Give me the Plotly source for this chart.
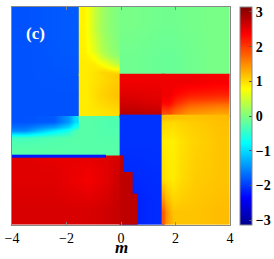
import plotly.graph_objects as go

PI = 3.141592653589793

# ---- phase map data, block by block: x edges (m), y edges, z rows (bottom -> top) ----
blue_tl_x = [-4.0, -2.75, -1.5]
blue_tl_y = [-0.05, 1.9, 4.0]
blue_tl_z = [[-1.85, -1.85],
             [-1.85, -1.8]]

a3_x = [-4.0, -3.0, -1.9, -1.5]
a3_y = [-1.5, -0.9, -0.65, -0.4, -0.05]
a3_z = [[-0.25, -0.25, -0.25],
        [-0.4, -0.3, -0.25],
        [-1.5, -0.9, -0.3],
        [-1.85, -1.8, -1.0]]

a3_edge_x = [-4.0, -0.6]
a3_edge_y = [-1.48, -1.47]
a3_edge_z = [[-2.2]]

b1_x = [-1.5, -1.15, -0.8, -0.4, 0.0]
b1_y = [1.5, 1.75, 2.05, 2.4, 4.0]
b1_z = [[0.9, 0.95, 1.05, 1.0],
        [0.9, 0.9, 0.75, 0.4],
        [0.88, 0.75, 0.35, 0.1],
        [0.85, 0.45, 0.15, 0.0]]

b2_x = [-1.5, -1.0, -0.5, 0.0]
b2_y = [-0.05, 0.4, 1.1, 1.5]
b2_z = [[0.9, 0.95, 1.0],
        [0.9, 1.05, 1.15],
        [0.9, 1.0, 1.1]]

b3_x = [-1.5, -0.75, 0.0]
b3_y = [-1.5, -0.75, -0.05]
b3_z = [[-0.25, -0.25],
        [-0.25, -0.3]]

cd1_x = [0.0, 1.0, 2.5, 4.0]
cd1_y = [1.5, 2.8, 4.0]
cd1_z = [[-0.1, -0.15, -0.05],
         [-0.05, -0.1, -0.05]]

c2_x = [0.0, 0.8, 1.54]
c2_y = [0.0, 0.3, 0.9, 1.5]
c2_z = [[2.8, 2.75],
        [2.6, 2.55],
        [2.45, 2.45]]

d2_x = [1.54, 2.0, 3.0, 4.0]
d2_y = [0.0, 0.3, 0.6, 1.0, 1.5]
d2_z = [[1.9, 1.45, 1.35],
        [2.3, 1.8, 1.7],
        [2.45, 2.2, 2.15],
        [2.45, 2.45, 2.4]]

c34_x = [0.0, 0.8, 1.54]
c34_y = [-4.0, -2.0, 0.0]
c34_z = [[-2.15, -2.1],
         [-2.05, -2.05]]

d34_x = [1.54, 1.65, 2.2, 3.2, 4.0]
d34_y = [-4.0, -3.0, -1.6, -0.2, 0.0]
d34_z = [[1.8, 1.15, 1.15, 1.2],
         [1.0, 0.9, 1.1, 1.15],
         [0.9, 0.88, 1.05, 1.15],
         [1.2, 1.15, 1.15, 1.2]]

ab4_x = [-4.0, -3.0, -1.9, -0.5, 0.0]
ab4_y = [-4.0, -2.9, -1.8, -1.5]
ab4_z = [[2.6, 2.6, 2.6, 2.7],
         [2.55, 2.55, 2.42, 2.65],
         [2.55, 2.5, 2.5, 2.6]]

step_x = [[0.0, 0.06], [0.0, 0.37], [0.0, 0.55]]
step_y = [[-2.1, -1.5], [-2.9, -2.1], [-4.0, -2.9]]
step_z = [2.75, 2.75, 2.75]

cbar_vals = [-3, -2, -1, 0, 1, 2, 3]
cbar_text = ["\u22123", "\u22122", "\u22121", "0", "1", "2", "3"]
x_ticks = [-4, -2, 0, 2, 4]

jet = [[0.0, "rgb(0,0,143)"], [0.125, "rgb(0,0,255)"], [0.375, "rgb(0,255,255)"],
       [0.625, "rgb(255,255,0)"], [0.875, "rgb(255,0,0)"], [1.0, "rgb(128,0,0)"]]

blocks = [
    (blue_tl_x, blue_tl_y, blue_tl_z),
    (a3_x, a3_y, a3_z),
    (b1_x, b1_y, b1_z),
    (b2_x, b2_y, b2_z),
    (b3_x, b3_y, b3_z),
    (cd1_x, cd1_y, cd1_z),
    (c2_x, c2_y, c2_z),
    (d2_x, d2_y, d2_z),
    (c34_x, c34_y, c34_z),
    (d34_x, d34_y, d34_z),
    (ab4_x, ab4_y, ab4_z),
    (a3_edge_x, a3_edge_y, a3_edge_z),
]
for sx, sy, sz in zip(step_x, step_y, step_z):
    blocks.append((sx, sy, [[sz]]))

PAD = 0.05  # small overlap so neighbouring blocks leave no seams


def padded(edges):
    return [edges[0] - PAD] + list(edges[1:-1]) + [edges[-1] + PAD]


fig = go.Figure()
for bx, by, bz in blocks:
    fig.add_trace(go.Heatmap(x=padded(bx), y=padded(by), z=bz, coloraxis="coloraxis",
                             zsmooth="best", hoverinfo="skip"))

SERIF = "Liberation Serif"
fig.update_layout(
    width=274, height=259,
    margin=dict(l=12, r=44, t=7, b=34, autoexpand=False),
    paper_bgcolor="white", plot_bgcolor="white",
    font=dict(family=SERIF, size=14, color="black"),
    showlegend=False,
    coloraxis=dict(
        cmin=-PI, cmax=PI, colorscale=jet,
        colorbar=dict(
            x=1.046, xanchor="left", xpad=0, y=0.5, yanchor="middle",
            len=1.0, lenmode="fraction", ypad=0, thickness=12,
            outlinecolor="#888888", outlinewidth=1,
            tickvals=cbar_vals, ticktext=cbar_text,
            ticks="inside", ticklen=3, tickcolor="#555555",
            tickfont=dict(family=SERIF, size=14, color="black", weight="bold"),
        ),
    ),
    xaxis=dict(
        range=[-4, 4], tickvals=x_ticks, ticks="inside", ticklen=3,
        tickcolor="#888888", showline=True, linecolor="#888888", linewidth=1,
        mirror="ticks", showgrid=False, zeroline=False,
        tickfont=dict(family=SERIF, size=14),
    ),
    yaxis=dict(
        range=[-4, 4], showticklabels=False, ticks="", showline=True,
        linecolor="#888888", linewidth=1, mirror=True, showgrid=False,
        zeroline=False,
    ),
    annotations=[
        dict(text="<b>(c)</b>", x=0.11, y=0.88, xref="paper", yref="paper",
             xanchor="center", yanchor="middle", showarrow=False,
             font=dict(family=SERIF, size=17, color="white")),
        dict(text="<b><i>m</i></b>", x=0.5, y=-0.105, xref="paper", yref="paper",
             xanchor="center", yanchor="middle", showarrow=False,
             font=dict(family=SERIF, size=17, color="black")),
    ],
)

fig.write_html("out.html", config={"displayModeBar": False},
               post_script="document.body.style.margin='0px';")
